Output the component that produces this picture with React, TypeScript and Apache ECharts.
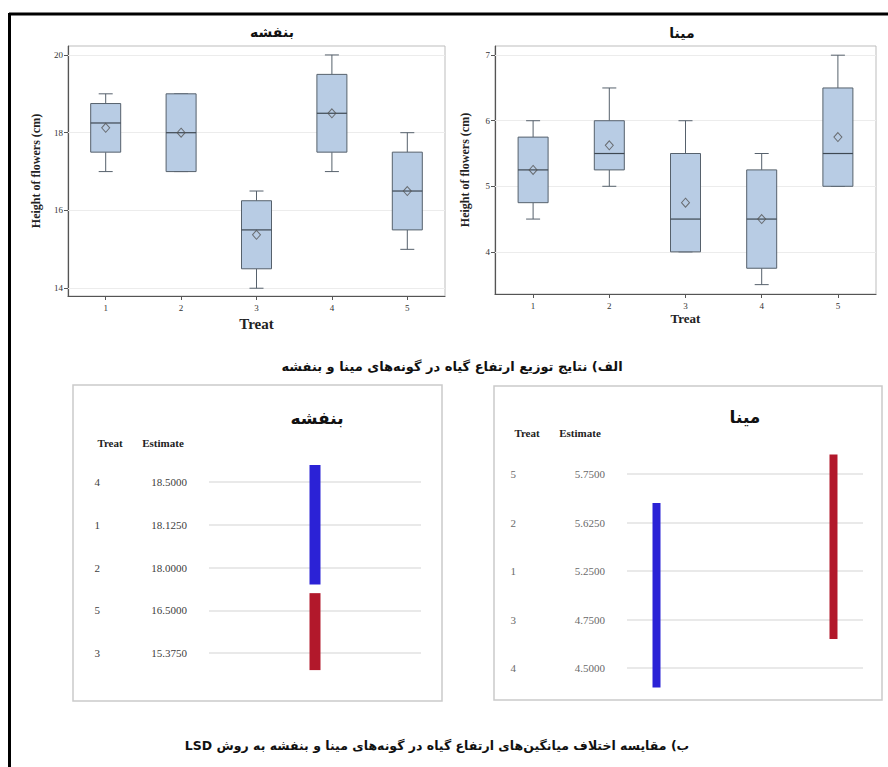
import React, { useEffect, useRef } from "react";
import * as echarts from "echarts";

// ---------- data ----------
const TREATS = ["1", "2", "3", "4", "5"];

// [min, Q1, median, Q3, max]
const BANAFSHEH_BOX = [
  [17, 17.5, 18.25, 18.75, 19],
  [17, 17, 18, 19, 19],
  [14, 14.5, 15.5, 16.25, 16.5],
  [17, 17.5, 18.5, 19.5, 20],
  [15, 15.5, 16.5, 17.5, 18],
];
const BANAFSHEH_MEAN = [18.125, 18, 15.375, 18.5, 16.5];
const BANAFSHEH_TICKS = [14, 16, 18, 20];

const MINA_BOX = [
  [4.5, 4.75, 5.25, 5.75, 6],
  [5, 5.25, 5.5, 6, 6.5],
  [4, 4, 4.5, 5.5, 6],
  [3.5, 3.75, 4.5, 5.25, 5.5],
  [5, 5, 5.5, 6.5, 7],
];
const MINA_MEAN = [5.25, 5.625, 4.75, 4.5, 5.75];
const MINA_TICKS = [4, 5, 6, 7];

// LSD comparison
const BANAFSHEH_LSD_TREAT = ["4", "1", "2", "5", "3"];
const BANAFSHEH_LSD_EST = [18.5, 18.125, 18.0, 16.5, 15.375];
const BANAFSHEH_LSD_GROUPS = [
  ["4", "1", "2"],
  ["5", "3"],
];

const MINA_LSD_TREAT = ["5", "2", "1", "3", "4"];
const MINA_LSD_EST = [5.75, 5.625, 5.25, 4.75, 4.5];
const MINA_LSD_GROUPS = [
  ["2", "1", "3", "4"],
  ["5", "2", "1", "3"],
];

const TITLE_BANAFSHEH = "بنفشه";
const TITLE_MINA = "مینا";
const CAPTION_A = "الف) نتایج توزیع ارتفاع گیاه در گونه‌های مینا و بنفشه";
const CAPTION_B = "ب) مقایسه اختلاف میانگین‌های ارتفاع گیاه در گونه‌های مینا و بنفشه به روش LSD";
const Y_NAME = "Height of flowers (cm)";
const X_NAME = "Treat";

// ---------- styles ----------
const SERIF = '"Liberation Serif", "Times New Roman", serif';
const PERSIAN = '"DejaVu Sans", "Noto Sans", sans-serif';
const BOX_FILL = "#b8cce4";
const BOX_STROKE = "#56616c";
const BLUE = "#2b22d6";
const RED = "#b2182b";

// right-to-left embedding so that mixed Persian/Latin captions read correctly
const rtl = (s: string) => "\u202B" + s + "\u202C";

function makeBoxRender(boxWidth: number, capWidth: number) {
  return (params: any, api: any) => {
    const cat = api.value(0);
    const vals = [1, 2, 3, 4, 5].map((i) => api.value(i));
    const pts = vals.map((v) => api.coord([cat, v]));
    const cx = pts[0][0];
    const [pMin, pQ1, pMed, pQ3, pMax] = pts.map((p: number[]) => p[1]);
    const st = { stroke: BOX_STROKE, lineWidth: 1 };
    return {
      type: "group",
      children: [
        { type: "line", shape: { x1: cx, y1: pMax, x2: cx, y2: pQ3 }, style: st },
        { type: "line", shape: { x1: cx, y1: pQ1, x2: cx, y2: pMin }, style: st },
        { type: "line", shape: { x1: cx - capWidth / 2, y1: pMax, x2: cx + capWidth / 2, y2: pMax }, style: st },
        { type: "line", shape: { x1: cx - capWidth / 2, y1: pMin, x2: cx + capWidth / 2, y2: pMin }, style: st },
        {
          type: "rect",
          shape: { x: cx - boxWidth / 2, y: pQ3, width: boxWidth, height: pQ1 - pQ3 },
          style: { fill: BOX_FILL, stroke: BOX_STROKE, lineWidth: 1 },
        },
        { type: "line", shape: { x1: cx - boxWidth / 2, y1: pMed, x2: cx + boxWidth / 2, y2: pMed }, style: { stroke: "#3e4852", lineWidth: 1.2 } },
      ],
    };
  };
}

function makeBarRender(width: number, color: string) {
  return (params: any, api: any) => {
    const col = api.value(0);
    const from = api.value(1);
    const to = api.value(2);
    const p1 = api.coord([col, from]);
    const p2 = api.coord([col, to]);
    const q0 = api.coord([col, 0]);
    const q1 = api.coord([col, 1]);
    const band = Math.abs(q1[1] - q0[1]);
    const ext = band * 0.4;
    const top = Math.min(p1[1], p2[1]) - ext;
    const bottom = Math.max(p1[1], p2[1]) + ext;
    return {
      type: "rect",
      shape: { x: p1[0] - width / 2, y: top, width, height: bottom - top },
      style: { fill: color },
    };
  };
}

function groupRange(group: string[], order: string[], col: number) {
  const idx = group.map((t) => order.indexOf(t));
  return [col, Math.min(...idx), Math.max(...idx)];
}

function boxAxes(grid: number, min: number, max: number, ticks: number[], nameGapY: number, nameGapX: number, xNameSize: number) {
  const xAxis = {
    type: "category",
    gridIndex: grid,
    data: TREATS,
    boundaryGap: true,
    axisLine: { show: true, lineStyle: { color: "#555", width: 1.2 } },
    axisTick: { show: true, alignWithLabel: true, length: 4, lineStyle: { color: "#555" } },
    axisLabel: { fontFamily: SERIF, fontSize: 9, color: "#333", margin: 7 },
    splitLine: { show: false },
    name: X_NAME,
    nameLocation: "middle",
    nameGap: nameGapX,
    nameTextStyle: { fontFamily: SERIF, fontSize: xNameSize, fontWeight: "bold", color: "#222" },
  };
  const yAxis = {
    type: "value",
    gridIndex: grid,
    min,
    max,
    axisLine: { show: true, lineStyle: { color: "#555", width: 1.2 } },
    axisTick: { show: true, length: 4, customValues: ticks, lineStyle: { color: "#555" } },
    axisLabel: { customValues: ticks, fontFamily: SERIF, fontSize: 9, color: "#333", margin: 5 },
    splitLine: { show: false },
    name: Y_NAME,
    nameLocation: "middle",
    nameGap: nameGapY,
    nameTextStyle: { fontFamily: SERIF, fontSize: 12, fontWeight: "bold", color: "#222" },
  };
  return { xAxis, yAxis };
}

function lsdYAxes(grid: number, treats: string[], est: number[], offT: number, offE: number, color: string) {
  return [
    {
      type: "category",
      gridIndex: grid,
      data: treats,
      inverse: true,
      boundaryGap: false,
      position: "left",
      offset: offT,
      axisLine: { show: false },
      axisTick: { show: false },
      axisLabel: { fontFamily: SERIF, fontSize: 11, color, margin: 0 },
      splitLine: { show: true, lineStyle: { color: "#e2e2e2", width: 1.5 } },
    },
    {
      type: "category",
      gridIndex: grid,
      data: est.map((v) => v.toFixed(4)),
      inverse: true,
      boundaryGap: false,
      position: "left",
      offset: offE,
      axisLine: { show: false },
      axisTick: { show: false },
      axisLabel: { fontFamily: SERIF, fontSize: 11, color, margin: 0 },
      splitLine: { show: false },
    },
  ];
}

export default function App() {
  const ref = useRef<HTMLDivElement>(null);

  useEffect(() => {
    if (!ref.current) return;
    const chart = echarts.init(ref.current, undefined, { renderer: "svg" });

    const a0 = boxAxes(0, 13.8, 20.23, BANAFSHEH_TICKS, 26, 20, 15);
    const a1 = boxAxes(1, 3.357, 7.14, MINA_TICKS, 24, 18, 13);

    const gridLineMark = (ticks: number[]) => ({
      silent: true,
      symbol: "none",
      z: 1,
      label: { show: false },
      lineStyle: { color: "#ececec", type: "solid", width: 1 },
      data: ticks.map((v) => ({ yAxis: v })),
    });

    const option: any = {
      animation: false,
      backgroundColor: "#ffffff",
      grid: [
        { left: 68, top: 46, width: 377, height: 250, show: true, borderColor: "#bdbdbd", borderWidth: 1, backgroundColor: "transparent" },
        { left: 495, top: 46, width: 381, height: 248, show: true, borderColor: "#bdbdbd", borderWidth: 1, backgroundColor: "transparent" },
        { left: 209, top: 482, width: 212, height: 171 },
        { left: 627, top: 474, width: 236, height: 194 },
      ],
      xAxis: [
        a0.xAxis,
        a1.xAxis,
        { type: "value", gridIndex: 2, min: -1, max: 1, show: false },
        { type: "value", gridIndex: 3, min: -0.1667, max: 1.1667, show: false },
      ],
      yAxis: [
        a0.yAxis,
        a1.yAxis,
        ...lsdYAxes(2, BANAFSHEH_LSD_TREAT, BANAFSHEH_LSD_EST, 109, 22, "#404040"),
        ...lsdYAxes(3, MINA_LSD_TREAT, MINA_LSD_EST, 111, 22, "#6a6a6a"),
      ],
      series: [
        // top-left
        {
          type: "scatter",
          xAxisIndex: 0,
          yAxisIndex: 0,
          data: [],
          z: 1,
          markLine: gridLineMark(BANAFSHEH_TICKS),
        },
        {
          type: "custom",
          name: TITLE_BANAFSHEH,
          xAxisIndex: 0,
          yAxisIndex: 0,
          z: 3,
          renderItem: makeBoxRender(30, 14),
          encode: { x: 0, y: [1, 2, 3, 4, 5] },
          data: BANAFSHEH_BOX.map((b, i) => [i, ...b]),
        },
        {
          type: "scatter",
          xAxisIndex: 0,
          yAxisIndex: 0,
          z: 4,
          symbol: "diamond",
          symbolSize: [8, 9],
          itemStyle: { color: "rgba(0,0,0,0)", borderColor: "#555", borderWidth: 1 },
          data: BANAFSHEH_MEAN.map((m, i) => [i, m]),
        },
        // top-right
        {
          type: "scatter",
          xAxisIndex: 1,
          yAxisIndex: 1,
          data: [],
          z: 1,
          markLine: gridLineMark(MINA_TICKS),
        },
        {
          type: "custom",
          name: TITLE_MINA,
          xAxisIndex: 1,
          yAxisIndex: 1,
          z: 3,
          renderItem: makeBoxRender(30, 14),
          encode: { x: 0, y: [1, 2, 3, 4, 5] },
          data: MINA_BOX.map((b, i) => [i, ...b]),
        },
        {
          type: "scatter",
          xAxisIndex: 1,
          yAxisIndex: 1,
          z: 4,
          symbol: "diamond",
          symbolSize: [8, 9],
          itemStyle: { color: "rgba(0,0,0,0)", borderColor: "#555", borderWidth: 1 },
          data: MINA_MEAN.map((m, i) => [i, m]),
        },
        // bottom-left LSD
        {
          type: "custom",
          xAxisIndex: 2,
          yAxisIndex: 2,
          clip: false,
          renderItem: makeBarRender(11, BLUE),
          encode: { x: 0, y: [1, 2] },
          data: [groupRange(BANAFSHEH_LSD_GROUPS[0], BANAFSHEH_LSD_TREAT, 0)],
        },
        {
          type: "custom",
          xAxisIndex: 2,
          yAxisIndex: 2,
          clip: false,
          renderItem: makeBarRender(11, RED),
          encode: { x: 0, y: [1, 2] },
          data: [groupRange(BANAFSHEH_LSD_GROUPS[1], BANAFSHEH_LSD_TREAT, 0)],
        },
        // bottom-right LSD
        {
          type: "custom",
          xAxisIndex: 3,
          yAxisIndex: 4,
          clip: false,
          renderItem: makeBarRender(8, BLUE),
          encode: { x: 0, y: [1, 2] },
          data: [groupRange(MINA_LSD_GROUPS[0], MINA_LSD_TREAT, 0)],
        },
        {
          type: "custom",
          xAxisIndex: 3,
          yAxisIndex: 4,
          clip: false,
          renderItem: makeBarRender(8, RED),
          encode: { x: 0, y: [1, 2] },
          data: [groupRange(MINA_LSD_GROUPS[1], MINA_LSD_TREAT, 1)],
        },
      ],
      graphic: [
        { type: "line", shape: { x1: 9, y1: 14, x2: 888, y2: 14 }, style: { stroke: "#000", lineWidth: 3 } },
        { type: "line", shape: { x1: 9.5, y1: 13, x2: 9.5, y2: 767 }, style: { stroke: "#000", lineWidth: 3 } },
        { type: "rect", shape: { x: 73, y: 385, width: 369, height: 316 }, style: { fill: "none", stroke: "#cacaca", lineWidth: 1.5 } },
        { type: "rect", shape: { x: 494, y: 386, width: 388, height: 314 }, style: { fill: "none", stroke: "#cacaca", lineWidth: 1.5 } },
        { type: "text", x: 272, y: 32, style: { text: TITLE_BANAFSHEH, font: `bold 14px ${PERSIAN}`, fill: "#111", align: "center", verticalAlign: "middle" } },
        { type: "text", x: 682, y: 33, style: { text: TITLE_MINA, font: `bold 14px ${PERSIAN}`, fill: "#111", align: "center", verticalAlign: "middle" } },
        { type: "text", x: 452, y: 366, style: { text: rtl(CAPTION_A), font: `bold 13px ${PERSIAN}`, fill: "#111", align: "center", verticalAlign: "middle" } },
        { type: "text", x: 437, y: 745, style: { text: rtl(CAPTION_B), font: `bold 12.5px ${PERSIAN}`, fill: "#111", align: "center", verticalAlign: "middle" } },
        { type: "text", x: 317, y: 418, style: { text: TITLE_BANAFSHEH, font: `bold 17px ${PERSIAN}`, fill: "#111", align: "center", verticalAlign: "middle" } },
        { type: "text", x: 745, y: 417, style: { text: TITLE_MINA, font: `bold 17px ${PERSIAN}`, fill: "#111", align: "center", verticalAlign: "middle" } },
        { type: "text", x: 110, y: 443, style: { text: "Treat", font: `bold 11px ${SERIF}`, fill: "#222", align: "center", verticalAlign: "middle" } },
        { type: "text", x: 163, y: 443, style: { text: "Estimate", font: `bold 11px ${SERIF}`, fill: "#222", align: "center", verticalAlign: "middle" } },
        { type: "text", x: 527, y: 433, style: { text: "Treat", font: `bold 11px ${SERIF}`, fill: "#222", align: "center", verticalAlign: "middle" } },
        { type: "text", x: 580, y: 433, style: { text: "Estimate", font: `bold 11px ${SERIF}`, fill: "#222", align: "center", verticalAlign: "middle" } },
      ],
    };

    chart.setOption(option);
    return () => chart.dispose();
  }, []);

  return (
    <div
      ref={ref}
      style={{ position: "absolute", left: 0, top: 0, width: 888, height: 767, background: "#fff" }}
    />
  );
}
